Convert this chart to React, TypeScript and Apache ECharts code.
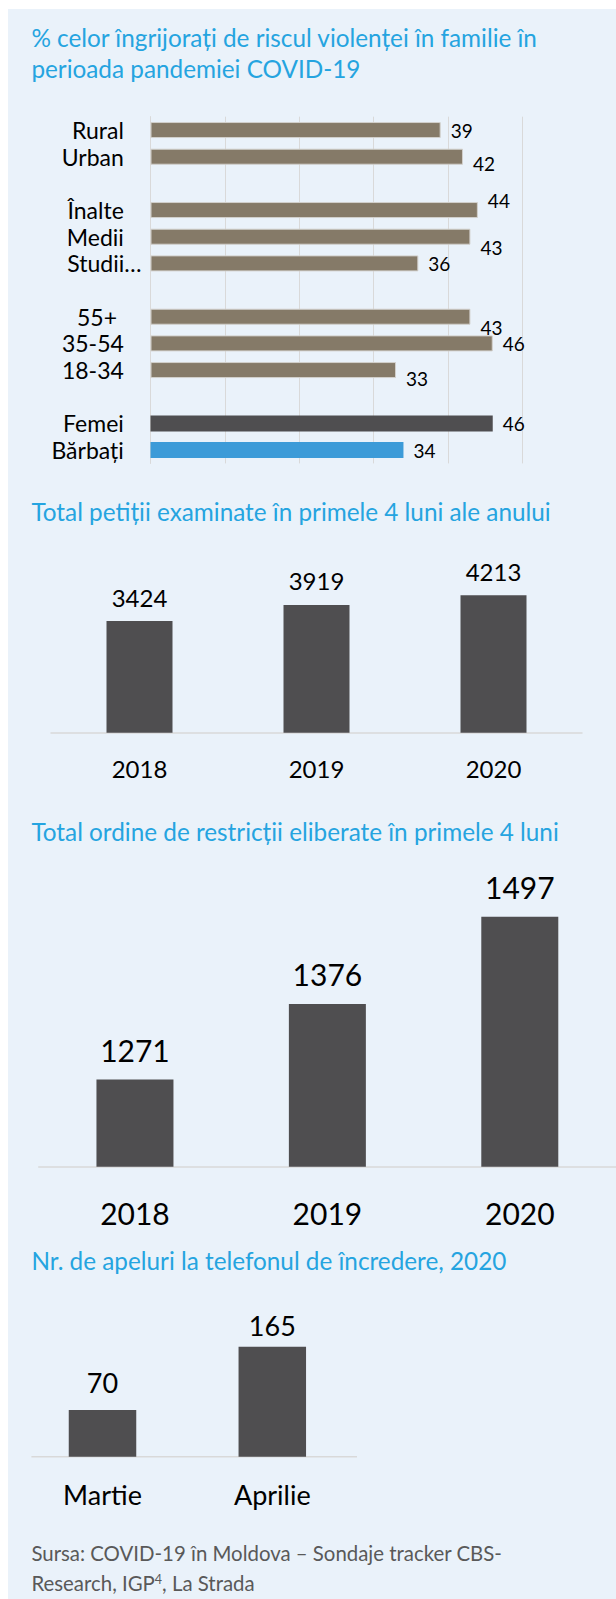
import React, { useEffect, useRef } from "react";
import * as echarts from "echarts";

// ---------- Data ----------
const surveyCategories = ["Rural", "Urban", " ", "Înalte", "Medii", "Studii…", "  ", "55+", "35-54", "18-34", "   ", "Femei", "Bărbați"];
const surveyValues: (number | null)[] = [39, 42, null, 44, 43, 36, null, 43, 46, 33, null, 46, 34];

const petitionYears = ["2018", "2019", "2020"];
const petitionValues = [3424, 3919, 4213];

const ordersYears = ["2018", "2019", "2020"];
const ordersValues = [1271, 1376, 1497];

const callMonths = ["Martie", "Aprilie"];
const callValues = [70, 165];

// ---------- Styles ----------
const FONT = "Lato";
const TITLE_COLOR = "#25a4e0";
const TITLE_SIZE = 24.3;
const BROWN = "#857a68";
const DARK = "#4f4e50";
const BLUE = "#3c9bd8";
const surveyColors = [BROWN, BROWN, BROWN, BROWN, BROWN, BROWN, BROWN, BROWN, BROWN, BROWN, BROWN, DARK, BLUE];
const surveyLabelShiftY = [0, 7, 0, -10, 10.5, 0, 0, 10.5, 0, 8.5, 0, 0, 0];
const callLabelDistance = [14, 8];

function buildOption(): any {
  const surveyData = surveyValues.map((v, i) =>
    v == null
      ? "-"
      : {
          value: v,
          itemStyle: {
            color: surveyColors[i],
            borderColor: surveyColors[i] === BROWN ? "#d2d0cc" : surveyColors[i],
            borderWidth: surveyColors[i] === BROWN ? 1 : 0,
          },
          label: { offset: [0, surveyLabelShiftY[i]] },
        }
  );

  const callData = callValues.map((v, i) => ({ value: v, label: { distance: callLabelDistance[i] } }));

  const labelRichPad = (name: string) => {
    if (name.trim() === "") return "";
    if (name === "Studii…") return "{s|" + name + "}";
    if (name === "55+") return "{p|" + name + "}";
    return "{n|" + name + "}";
  };

  const catLabelBase = { fontFamily: FONT, fontSize: 23, color: "#000" };
  const titleStyle = { fill: TITLE_COLOR, fontFamily: FONT, fontSize: TITLE_SIZE, verticalAlign: "middle" };

  return {
    animation: false,
    grid: [
      { left: 150.5, top: 116.7, width: 372, height: 346.7 },
      { left: 51, top: 569.7, width: 531, height: 163 },
      { left: 38.75, top: 878.7, width: 577.5, height: 288 },
      { left: 17.6, top: 1323.3, width: 339.6, height: 133.4 },
    ],
    xAxis: [
      {
        gridIndex: 0,
        type: "value",
        min: 0,
        max: 50,
        interval: 10,
        axisLabel: { show: false },
        axisLine: { show: false },
        axisTick: { show: false },
        splitLine: { show: true, lineStyle: { color: "#d9d9d9", width: 1 } },
      },
      {
        gridIndex: 1,
        type: "category",
        data: petitionYears,
        axisLine: { show: true, lineStyle: { color: "#d9d9d9", width: 1.5 } },
        axisTick: { show: false },
        axisLabel: { fontFamily: FONT, fontSize: 24, color: "#000", margin: 24 },
      },
      {
        gridIndex: 2,
        type: "category",
        data: ordersYears,
        axisLine: { show: true, lineStyle: { color: "#d9d9d9", width: 1.5 } },
        axisTick: { show: false },
        axisLabel: { fontFamily: FONT, fontSize: 30, color: "#000", margin: 31 },
      },
      {
        gridIndex: 3,
        type: "category",
        data: callMonths,
        axisLine: { show: false },
        axisTick: { show: false },
        axisLabel: { fontFamily: FONT, fontSize: 27, color: "#000", margin: 24 },
      },
    ],
    yAxis: [
      {
        gridIndex: 0,
        type: "category",
        inverse: true,
        data: surveyCategories,
        axisLine: { show: true, lineStyle: { color: "#d9d9d9", width: 1 } },
        axisTick: { show: false },
        axisLabel: {
          margin: 9,
          formatter: labelRichPad,
          rich: {
            n: { ...catLabelBase, padding: [0, 17.7, 0, 0] },
            p: { ...catLabelBase, padding: [0, 24.5, 0, 0] },
            s: { ...catLabelBase },
          },
        },
      },
      { gridIndex: 1, type: "value", min: 0, max: 5000, show: false, splitLine: { show: false } },
      { gridIndex: 2, type: "value", min: 1150, max: 1550, show: false, splitLine: { show: false } },
      { gridIndex: 3, type: "value", min: 0, max: 200, show: false, splitLine: { show: false } },
    ],
    series: [
      {
        type: "bar",
        xAxisIndex: 0,
        yAxisIndex: 0,
        data: surveyData,
        barWidth: 16,
        label: {
          show: true,
          position: "right",
          distance: 10,
          fontFamily: FONT,
          fontSize: 19,
          color: "#000",
        },
      },
      {
        type: "bar",
        xAxisIndex: 1,
        yAxisIndex: 1,
        data: petitionValues,
        barWidth: 66,
        itemStyle: { color: DARK },
        label: { show: true, position: "top", distance: 12, fontFamily: FONT, fontSize: 24, color: "#000" },
      },
      {
        type: "bar",
        xAxisIndex: 2,
        yAxisIndex: 2,
        data: ordersValues,
        barWidth: 77,
        itemStyle: { color: DARK },
        label: { show: true, position: "top", distance: 15, fontFamily: FONT, fontSize: 30, color: "#000" },
      },
      {
        type: "bar",
        xAxisIndex: 3,
        yAxisIndex: 3,
        data: callData,
        barWidth: 67.5,
        itemStyle: { color: DARK },
        label: { show: true, position: "top", fontFamily: FONT, fontSize: 27, color: "#000" },
      },
    ],
    graphic: [
      {
        type: "line",
        shape: { x1: 31.4, y1: 1456.7, x2: 357, y2: 1456.7 },
        style: { stroke: "#d9d9d9", lineWidth: 1.5 },
      },
      { type: "text", x: 31.4, y: 37, style: { ...titleStyle, text: "% celor îngrijorați de riscul violenței în familie în" } },
      { type: "text", x: 31.4, y: 68.5, style: { ...titleStyle, text: "perioada pandemiei COVID-19" } },
      { type: "text", x: 31.4, y: 511.7, style: { ...titleStyle, text: "Total petiții examinate în primele 4 luni ale anului" } },
      { type: "text", x: 31.4, y: 831.7, style: { ...titleStyle, text: "Total ordine de restricții eliberate în primele 4 luni" } },
      { type: "text", x: 31.4, y: 1260.7, style: { ...titleStyle, text: "Nr. de apeluri la telefonul de încredere, 2020" } },
      {
        type: "text",
        x: 31.4,
        y: 1553.3,
        style: { text: "Sursa: COVID-19 în Moldova – Sondaje tracker CBS-", fill: "#595959", fontFamily: FONT, fontSize: 20.4, verticalAlign: "middle" },
      },
      {
        type: "text",
        x: 31.4,
        y: 1583.3,
        style: {
          text: "{a|Research, IGP}{s|4}{a|, La Strada}",
          verticalAlign: "middle",
          rich: {
            a: { fill: "#595959", fontFamily: FONT, fontSize: 20.4, verticalAlign: "middle" },
            s: { fill: "#595959", fontFamily: FONT, fontSize: 12.5, verticalAlign: "top" },
          },
        },
      },
    ],
  };
}

export default function App() {
  const ref = useRef<HTMLDivElement>(null);
  useEffect(() => {
    if (!ref.current) return;
    const chart = echarts.init(ref.current, undefined, { renderer: "svg" });
    chart.setOption(buildOption());
    return () => chart.dispose();
  }, []);
  return (
    <div style={{ position: "absolute", left: 0, top: 0, width: 616, height: 1599, overflow: "hidden" }}>
      <div style={{ position: "absolute", left: 8, top: 9, width: 608, height: 1590, background: "#eaf2fa" }} />
      <div ref={ref} style={{ position: "absolute", left: 0, top: 0, width: 616, height: 1599 }} />
    </div>
  );
}
